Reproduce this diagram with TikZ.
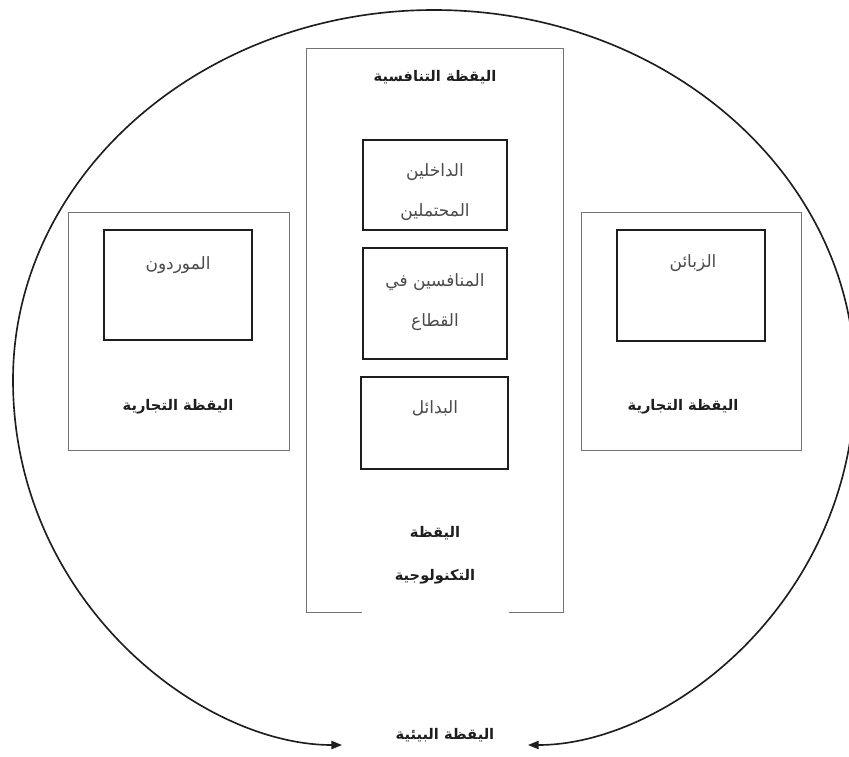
\documentclass[tikz,border=0pt]{standalone}
\usepackage{fontspec}
\usepackage{xcolor}
\usepackage{tikz}
\usetikzlibrary{arrows.meta, positioning}
\TeXXeTstate=1
\newfontfamily\arabicfont[Script=Arabic]{DejaVu Sans}
\newcommand{\artext}[1]{\beginR #1\endR}
\definecolor{frame}{RGB}{115,115,115}
\definecolor{dark}{RGB}{30,30,30}
\definecolor{itemtext}{RGB}{75,75,75}
\tikzset{
    zone/.style={rectangle, draw=frame, line width=0.8pt},
    actorbox/.style={rectangle, draw=dark, line width=1.6pt, minimum width=4.4cm},
    zonelabel/.style={font=\arabicfont\bfseries\fontsize{12.5}{37}\selectfont, text=dark, align=center},
    itemlabel/.style={font=\arabicfont\fontsize{14.5}{34}\selectfont, text=itemtext, align=center},
    envarrow/.style={{Triangle[length=9pt,width=7pt]}-{Triangle[length=9pt,width=7pt]}, line width=1.4pt, draw=dark}
}

\begin{document}
\begin{tikzpicture}[x=0.03cm, y=-0.03cm]
    \path[fill=white, use as bounding box] (0,0) rectangle (849,756);

    % Commercial vigilance (left and right)
    \node[zone, minimum width=6.63cm, minimum height=7.14cm] (leftzone) at (178.5,331) {};
    \node[zone, minimum width=6.6cm, minimum height=7.14cm] (rightzone) at (691,331) {};
    \node[actorbox, minimum width=4.44cm, minimum height=3.3cm] (suppliers) at (178,285) {};
    \node[actorbox, minimum width=4.44cm, minimum height=3.33cm] (customers) at (691,285.5) {};
    \node[itemlabel] (supptext) at (178,265) {\artext{الموردون}};
    \node[itemlabel] (custtext) at (693,263) {\artext{الزبائن}};
    \node[zonelabel] (leftlabel) at (178,407) {\artext{اليقظة التجارية}};
    \node[zonelabel] (rightlabel) at (683,407) {\artext{اليقظة التجارية}};

    % Competitive vigilance (centre)
    \node[zone, minimum width=7.71cm, minimum height=16.92cm] (compzone) at (434.5,330) {};
    \node[zonelabel] (complabel) at (435,77) {\artext{اليقظة التنافسية}};
    \node[actorbox, minimum width=4.32cm, minimum height=2.7cm] (entrants) at (435,185) {};
    \node[itemlabel] (entrtext) at (435,192) {\artext{الداخلين}\\\artext{المحتملين}};
    \node[actorbox, minimum width=4.32cm, minimum height=3.33cm] (rivals) at (435,303.5) {};
    \node[itemlabel] (rivtext) at (435,302.5) {\artext{المنافسين في}\\\artext{القطاع}};
    \node[actorbox, line width=2.4pt, minimum width=4.41cm, minimum height=2.76cm] (substitutes) at (434.5,423) {};
    \node[itemlabel] (substext) at (435,408) {\artext{البدائل}};

    % Technological vigilance (white box over the frame)
    \node[zonelabel, fill=white, minimum width=4.41cm, minimum height=3.78cm] (techlabel) at (435,555) {\artext{اليقظة}\\\artext{التكنولوجية}};

    % Environmental vigilance
    \node[zonelabel] (envlabel) at (445,735) {\artext{اليقظة البيئية}};
    \coordinate (envleft) at (342,745);
    \coordinate (envright) at (528,745);
    \draw[envarrow] (envleft) .. controls (200,745) and (13,600) .. (13,380)
        .. controls (13,176) and (202,10) .. (434,10)
        .. controls (667,10) and (855,176) .. (855,380)
        .. controls (855,600) and (669,745) .. (envright);
\end{tikzpicture}
\end{document}
